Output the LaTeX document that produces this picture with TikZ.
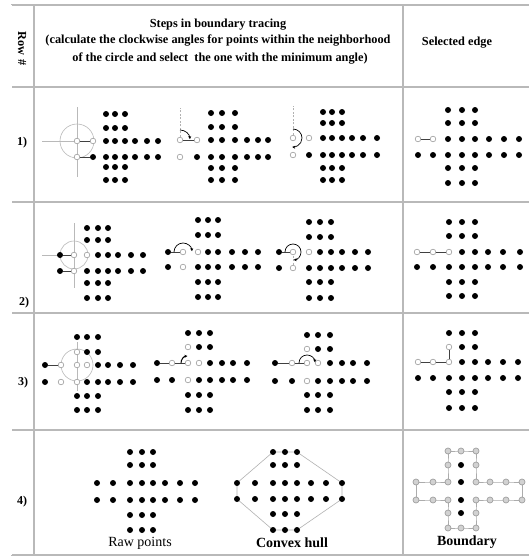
\documentclass[tikz,border=0pt]{standalone}
\usepackage{fontspec}
\setmainfont{Liberation Serif}
\usetikzlibrary{arrows.meta}
\pgfdeclarelayer{back}
\pgfsetlayers{back,main}

\tikzset{
  bkdot/.style={circle,fill=black,inner sep=0pt,minimum size=6pt},
  odot/.style={circle,draw=gray!70,fill=white,line width=0.7pt,inner sep=0pt,minimum size=5.6pt},
  bdot/.style={circle,draw=gray!75,fill=gray!35,line width=0.7pt,inner sep=0pt,minimum size=6pt},
  link/.style={draw=black!75,line width=0.6pt},
  guide/.style={draw=gray!55,line width=0.6pt},
  refline/.style={draw=gray!60,line width=0.6pt,dash pattern=on 2pt off 1.5pt},
  turnarrow/.style={draw=black,line width=0.7pt,-{Stealth[length=3pt,width=3pt]}},
  hullline/.style={draw=gray!60,line width=0.6pt},
  tabline/.style={draw=gray!55,line width=1.3pt},
  hdr/.style={font=\fontsize{12.3}{12}\selectfont\bfseries,inner sep=0pt},
  lab/.style={font=\fontsize{12}{12}\selectfont\bfseries,inner sep=0pt},
  caption/.style={font=\fontsize{14}{14}\selectfont,inner sep=0pt},
}

\newcommand\setopen[2]{\foreach \pp in {#2}{\expandafter\gdef\csname op@#1-\pp\endcsname{}}}
\newcommand\mkcross[4]{%
  \foreach \xx [count=\ci from 0] in {#2}{%
    \foreach \yy [count=\ri from 0] in {#3}{%
      \ifnum\ri=2 \def\pres{1}\else\ifnum\ri=3 \def\pres{1}\else
        \ifnum\ci<2 \def\pres{0}\else\ifnum\ci>4 \def\pres{0}\else\def\pres{1}\fi\fi\fi\fi
      \ifnum\pres=1
        \ifcsname op@#1-\ci-\ri\endcsname
          \node[#4] (#1-\ci-\ri) at (\xx,-\yy) {};
        \else
          \node[bkdot] (#1-\ci-\ri) at (\xx,-\yy) {};
        \fi
      \fi
    }%
  }%
}

\begin{document}
\begin{tikzpicture}[x=1pt,y=1pt]
\begin{pgfonlayer}{back}
\fill[white] (0,0) rectangle (529,-557);
\end{pgfonlayer}
\useasboundingbox (0,0) rectangle (529,-557);

% table
\draw[tabline] (11,-5) -- (529,-5);
\draw[tabline] (11,-87) -- (529,-87);
\draw[tabline] (11,-202) -- (529,-202);
\draw[tabline] (11,-313) -- (529,-313);
\draw[tabline] (11,-430) -- (529,-430);
\draw[tabline] (11,-555) -- (529,-555);
\draw[draw=gray!55,line width=0.8pt,double=white,double distance=1.2pt] (11,-5) -- (11,-555);
\draw[tabline] (34,-5) -- (34,-555);
\draw[tabline] (403,-5) -- (403,-555);

% header
\node[hdr,rotate=-90] (rowh) at (22,-49) {Row\hspace{4pt}\#};
\node[hdr] (h1) at (218,-25) {Steps in boundary tracing};
\node[hdr] (h2) at (218,-41) {(calculate the clockwise angles for points within the neighborhood};
\node[hdr] (h3) at (220,-59) {of the circle and select\ \ the one with the minimum angle)};
\node[hdr] (sel) at (457,-43) {Selected edge};

\node[lab] (r1) at (22,-143) {1)};
\node[lab] (r2) at (24,-303) {2)};
\node[lab] (r3) at (23,-383) {3)};
\node[lab] (r4) at (22,-502) {4)};

% ---------- row 1 ----------
\setopen{A}{0-2,1-2,0-3}
\mkcross{A}{77,93,106,115,125,135,147,158}{114,128,141,157,167,180}{odot}
\coordinate (A-hl) at (42,-141);
\coordinate (A-vt) at (77,-107);
\coordinate (A-vb) at (77,-177);
\begin{pgfonlayer}{back}
\draw[guide] (A-hl) -- (A-0-2.center);
\draw[guide] (A-vt) -- (A-vb);
\draw[guide] (A-0-2.center) circle[radius=17pt];
\end{pgfonlayer}
\draw[link] (A-0-2) -- (A-1-2);
\draw[link] (A-0-3) -- (A-1-3);

\setopen{B}{0-2,1-2,0-3}
\mkcross{B}{180,197,211,222,235,247,258,268}{113,127,140,157,168,180}{odot}
\coordinate (B-rt) at (180,-108);
\begin{pgfonlayer}{back}
\draw[refline] (B-0-2.center) -- (B-rt);
\end{pgfonlayer}
\draw[link] (B-0-2) -- (B-1-2);
\draw[turnarrow] ([shift={(90:10pt)}]B-0-2.center) arc[start angle=90,end angle=5,radius=10pt];

\setopen{C}{0-2,1-2,0-3}
\mkcross{C}{293,309,323,332,342,352,363,377}{112,123,138,155,168,180}{odot}
\coordinate (C-rt) at (293,-106);
\begin{pgfonlayer}{back}
\draw[refline] (C-0-2.center) -- (C-rt);
\end{pgfonlayer}
\draw[turnarrow] ([shift={(90:9pt)}]C-0-2.center) arc[start angle=90,end angle=-95,radius=9pt];

\setopen{D}{0-2,1-2}
\mkcross{D}{418,433,448,462,475,489,504,519}{110,123,139,155,168,183}{odot}
\draw[link] (D-0-2) -- (D-1-2);

% ---------- row 2 ----------
\setopen{E}{1-2,2-2,1-3}
\mkcross{E}{60,74,87,98,108,118,131,143}{228,240,255,271,283,298}{odot}
\coordinate (E-hl) at (42,-255);
\coordinate (E-vt) at (74,-223);
\coordinate (E-vb) at (74,-288);
\begin{pgfonlayer}{back}
\draw[guide] (E-hl) -- (E-0-2.center);
\draw[guide] (E-vt) -- (E-vb);
\draw[guide] (E-1-2.center) circle[radius=14pt];
\end{pgfonlayer}
\draw[link] (E-0-2) -- (E-1-2);
\draw[link] (E-0-3) -- (E-1-3);

\setopen{F}{1-2,2-2,1-3}
\mkcross{F}{168,183,198,208,218,232,245,258}{220,235,252,267,282,297}{odot}
\draw[link] (F-0-2) -- (F-1-2);
\draw[turnarrow] ([shift={(180:9pt)}]F-1-2.center) arc[start angle=180,end angle=5,radius=9pt];

\setopen{G}{1-2,2-2,1-3}
\mkcross{G}{279,293,309,320,331,342,355,368}{222,237,252,268,282,298}{odot}
\begin{pgfonlayer}{back}
\draw[refline] (G-1-2.center) -- (G-1-3.center);
\end{pgfonlayer}
\draw[link] (G-0-2) -- (G-1-2);
\draw[turnarrow] ([shift={(180:8pt)}]G-1-2.center) arc[start angle=180,end angle=-85,radius=8pt];

\setopen{H}{0-2,1-2,2-2}
\mkcross{H}{417,433,449,462,475,488,503,520}{222,236,252,267,282,296}{odot}
\draw[link] (H-0-2) -- (H-1-2) -- (H-2-2);

% ---------- row 3 ----------
\setopen{I}{1-2,2-1,2-2,3-2,1-3,2-3}
\mkcross{I}{45,61,77,87,98,108,120,133}{337,352,365,382,396,410}{odot}
\coordinate (I-vt) at (77,-342);
\coordinate (I-vb) at (77,-391);
\begin{pgfonlayer}{back}
\draw[guide] (I-vt) -- (I-vb);
\draw[guide] (I-2-2.center) circle[radius=16pt];
\end{pgfonlayer}
\draw[link] (I-0-2) -- (I-1-2);

\setopen{J}{1-2,2-1,2-2,3-2,2-3}
\mkcross{J}{157,172,188,199,210,222,233,247}{333,347,363,380,395,410}{odot}
\draw[link] (J-0-2) -- (J-1-2) -- (J-2-2);
\draw[turnarrow,line width=1pt] ([shift={(180:7pt)}]J-2-2.center) arc[start angle=180,end angle=95,radius=7pt];

\setopen{K}{1-2,2-1,2-2,3-2,2-3}
\mkcross{K}{275,292,307,318,330,342,353,367}{335,349,363,381,395,410}{odot}
\draw[link] (K-0-2) -- (K-1-2) -- (K-2-2);
\draw[turnarrow] ([shift={(180:8pt)}]K-2-2.center) arc[start angle=180,end angle=5,radius=8pt];

\setopen{L}{0-2,1-2,2-2,2-1}
\mkcross{L}{418,433,449,462,475,488,503,518}{333,347,362,378,392,408}{odot}
\draw[link] (L-0-2) -- (L-1-2) -- (L-2-2) -- (L-2-1);

% ---------- row 4 ----------
\mkcross{M}{97,113,130,142,153,165,180,195}{452,465,483,500,515,530}{odot}
\node[caption] (capM) at (140,-543) {Raw points};

\mkcross{N}{237,255,273,285,297,311,326,342}{452,465,483,499,514,530}{odot}
\begin{pgfonlayer}{back}
\draw[hullline] (N-0-2.center) -- (N-2-0.center) -- (N-4-0.center) -- (N-7-2.center)
  -- (N-7-3.center) -- (N-4-5.center) -- (N-2-5.center) -- (N-0-3.center) -- cycle;
\end{pgfonlayer}
\node[caption,font=\fontsize{14}{14}\selectfont\bfseries] (capN) at (292,-543) {Convex hull};

\setopen{O}{2-0,3-0,4-0,2-1,4-1,0-2,1-2,2-2,4-2,5-2,6-2,7-2,0-3,1-3,2-3,4-3,5-3,6-3,7-3,2-4,4-4,2-5,3-5,4-5}
\mkcross{O}{416,433,448,461,476,490,506,522}{451,465,482,500,513,528}{bdot}
\begin{pgfonlayer}{back}
\draw[hullline,draw=gray!65,line width=0.7pt] (O-2-0.center) -- (O-3-0.center) -- (O-4-0.center) -- (O-4-1.center)
  -- (O-4-2.center) -- (O-5-2.center) -- (O-6-2.center) -- (O-7-2.center) -- (O-7-3.center)
  -- (O-6-3.center) -- (O-5-3.center) -- (O-4-3.center) -- (O-4-4.center) -- (O-4-5.center)
  -- (O-3-5.center) -- (O-2-5.center) -- (O-2-4.center) -- (O-2-3.center) -- (O-1-3.center)
  -- (O-0-3.center) -- (O-0-2.center) -- (O-1-2.center) -- (O-2-2.center) -- (O-2-1.center) -- cycle;
\end{pgfonlayer}
\node[caption,font=\fontsize{14}{14}\selectfont\bfseries] (capO) at (467,-542) {Boundary};
\end{tikzpicture}
\end{document}
